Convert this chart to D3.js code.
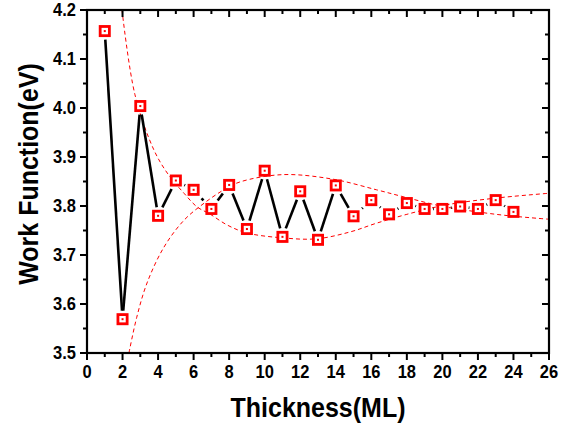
<!DOCTYPE html>
<html><head><meta charset="utf-8">
<script src="https://cdn.jsdelivr.net/npm/d3@7"></script>
<style>body{margin:0;background:#fff;} svg{display:block;}</style>
</head><body>
<script>
const thickness = [1,2,3,4,5,6,7,8,9,10,11,12,13,14,15,16,17,18,19,20,21,22,23,24];
const workFunction = [4.157,3.569,4.004,3.780,3.852,3.833,3.794,3.843,3.753,3.872,3.737,3.830,3.731,3.842,3.779,3.812,3.783,3.806,3.794,3.794,3.799,3.794,3.812,3.788];
const envA_x = [1.97,2.7,3.77,4.6,5.46,6.2,6.9,7.9,9.0,11.0,12.9,14.8,16.3,18.0,19.9,21.2,23.5,26.0];
const envA_y = [4.20,4.027,3.914,3.863,3.826,3.798,3.784,3.761,3.745,3.735,3.733,3.747,3.765,3.783,3.800,3.808,3.818,3.826];
const envB_x = [2.36,2.8,3.38,4.33,5.46,6.6,7.7,8.6,11.0,13.8,16.3,18.0,19.9,21.2,23.5,26.0];
const envB_y = [3.50,3.573,3.643,3.716,3.771,3.806,3.833,3.849,3.864,3.855,3.833,3.817,3.800,3.792,3.781,3.773];
const xMajor = [0,2,4,6,8,10,12,14,16,18,20,22,24,26];
const yMajor = [3.5,3.6,3.7,3.8,3.9,4.0,4.1,4.2];

const W = 574, H = 429;
const L = 87, R = 549, T = 10, B = 353;
const svg = d3.select("body").append("svg").attr("width", W).attr("height", H);
const x = d3.scaleLinear().domain([0,26]).range([L,R]);
const y = d3.scaleLinear().domain([3.5,4.2]).range([B,T]);

svg.append("defs").append("clipPath").attr("id","clip")
  .append("rect").attr("x",L).attr("y",T).attr("width",R-L).attr("height",B-T);

// envelopes
const lineGen = d3.line().x(d=>x(d[0])).y(d=>y(d[1])).curve(d3.curveCatmullRom.alpha(0.5));
[[envA_x,envA_y],[envB_x,envB_y]].forEach(([xs,ys])=>{
  svg.append("path").attr("clip-path","url(#clip)")
    .attr("d", lineGen(xs.map((v,i)=>[v,ys[i]])))
    .attr("fill","none").attr("stroke","#ff0000").attr("stroke-width",1)
    .attr("stroke-dasharray","4,3");
});

// black data line with gaps near markers
const pts = thickness.map((t,i)=>[x(t), y(workFunction[i])]);
const h = 6, gap = 2.5;
for (let i=0;i<pts.length-1;i++){
  const [x1,y1]=pts[i],[x2,y2]=pts[i+1];
  const dx=x2-x1, dy=y2-y1, len=Math.hypot(dx,dy);
  const ux=dx/len, uy=dy/len;
  const t = (h+gap)/Math.max(Math.abs(ux),Math.abs(uy));
  if (len > 2*t) {
    svg.append("line")
      .attr("x1",x1+ux*t).attr("y1",y1+uy*t)
      .attr("x2",x2-ux*t).attr("y2",y2-uy*t)
      .attr("stroke","#000").attr("stroke-width",2.6);
  }
}

// markers
const mk = svg.append("g");
pts.forEach(([px,py])=>{
  mk.append("rect").attr("x",px-4.6).attr("y",py-4.6).attr("width",9.2).attr("height",9.2)
    .attr("fill","#fff").attr("stroke","#ff0000").attr("stroke-width",2.8);
  mk.append("rect").attr("x",px-1).attr("y",py-1).attr("width",2).attr("height",2)
    .attr("fill","#ff0000");
});

// axes
const font = "'Liberation Sans', Arial, sans-serif";
const xMinor = d3.range(0,27,1);
const yMinor = d3.range(3.5,4.2001,0.05);
const ax = svg.append("g");
function tick(x1,y1,x2,y2){ ax.append("line").attr("x1",x1).attr("y1",y1).attr("x2",x2).attr("y2",y2).attr("stroke","#000").attr("stroke-width",2); }
xMinor.forEach(v=>{
  const major = v%2===0, len = major?7:4;
  tick(x(v),B,x(v),B+len);
  tick(x(v),T,x(v),T+len);
});
yMinor.forEach(v=>{
  const major = Math.abs(v*10-Math.round(v*10))<1e-6, len = major?7:4;
  tick(L-len,y(v),L,y(v));
  tick(R-len,y(v),R,y(v));
});
ax.append("rect").attr("x",L).attr("y",T).attr("width",R-L).attr("height",B-T)
  .attr("fill","none").attr("stroke","#000").attr("stroke-width",2.2);

// tick labels
ax.selectAll(".xl").data(xMajor).enter().append("text")
  .attr("transform",d=>`translate(${x(d)},378) scale(1,1.08)`).attr("text-anchor","middle")
  .attr("font-family",font).attr("font-weight","bold").attr("font-size",16.5)
  .text(d=>d);
ax.selectAll(".yl").data(yMajor).enter().append("text")
  .attr("transform",d=>`translate(76,${y(d)+6}) scale(1,1.08)`).attr("text-anchor","end")
  .attr("font-family",font).attr("font-weight","bold").attr("font-size",16.5)
  .text(d=>d.toFixed(1));

// titles
svg.append("text").attr("transform","translate(318,417) scale(1,1.1)").attr("text-anchor","middle")
  .attr("font-family",font).attr("font-weight","bold").attr("font-size",25)
  .text("Thickness(ML)");
svg.append("text").attr("transform","translate(38,174) rotate(-90) scale(1,1.1)").attr("text-anchor","middle")
  .attr("font-family",font).attr("font-weight","bold").attr("font-size",25)
  .text("Work Function(eV)");
</script>
</body></html>
